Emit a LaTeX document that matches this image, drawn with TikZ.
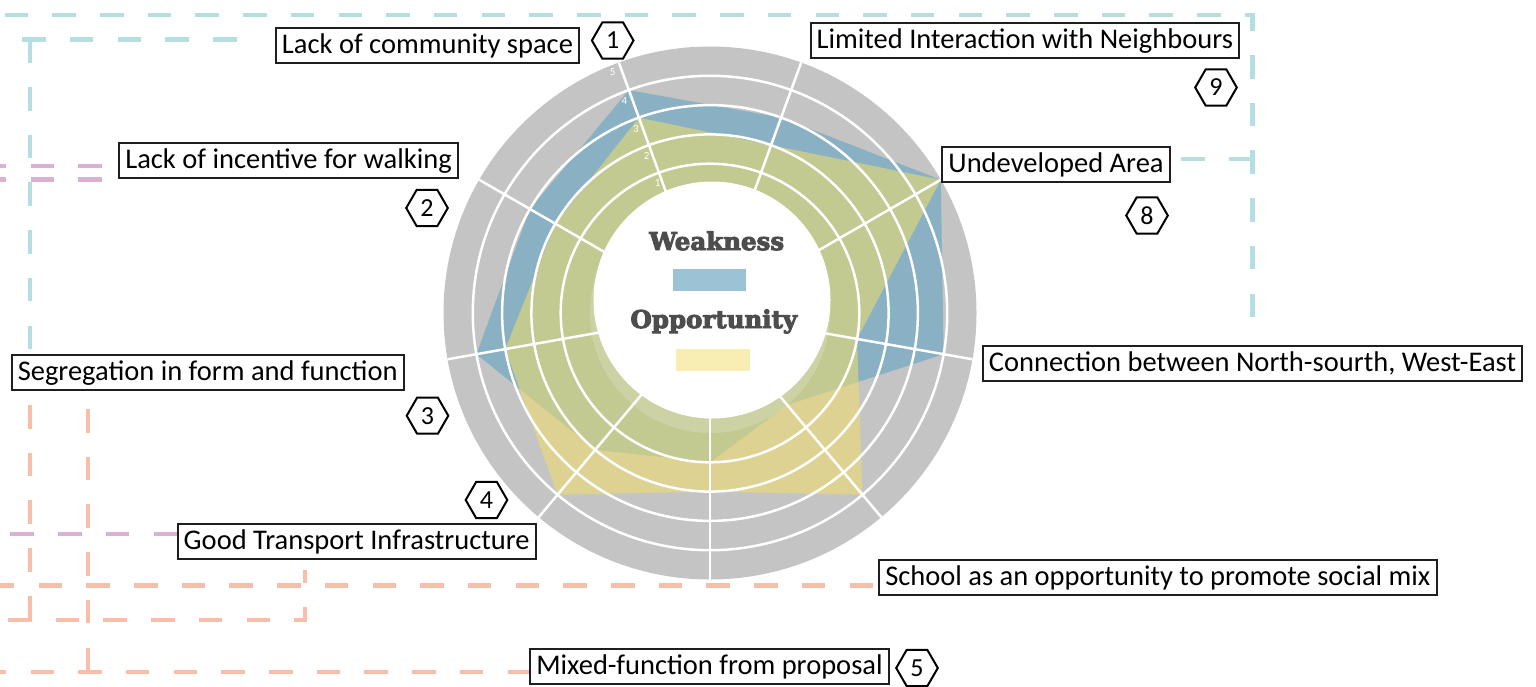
\documentclass[tikz,border=0pt]{standalone}
\usepackage{fontspec}
\setmainfont{Carlito}
\newfontfamily\slabfont{DejaVu Serif}[BoldFeatures={FakeBold=4}]
\usetikzlibrary{shapes.geometric}
\definecolor{grayzero}{RGB}{196,196,196}
\definecolor{wblue}{RGB}{112,169,195}
\definecolor{oyell}{RGB}{242,222,105}
\definecolor{lgblue}{RGB}{155,195,213}
\definecolor{lgyell}{RGB}{248,238,179}
\definecolor{dcyan}{RGB}{180,223,226}
\definecolor{dpink}{RGB}{218,176,212}
\definecolor{dsalmon}{RGB}{247,191,169}
\definecolor{txtgray}{RGB}{77,77,77}
\definecolor{boxline}{RGB}{30,30,30}
\begin{document}
\begin{tikzpicture}[x=1pt,y=-1pt,
  lab/.style={draw=boxline, line width=2pt, fill=white, font=\fontsize{28.5}{30}\selectfont,
    inner xsep=6pt, inner ysep=3.4pt, text height=22.2pt, text depth=6pt},
  hexa/.style={draw=black, line width=2pt, fill=white, regular polygon, regular polygon sides=6,
    minimum size=41.6pt, inner sep=0pt, font=\fontsize{26}{28}\selectfont},
  dsh/.style={line width=4.5pt, dash pattern=on 23.5pt off 24.2pt},
  ringline/.style={draw=white, line width=2.5pt},
  big/.style={font=\slabfont\bfseries\fontsize{24.5}{26}\selectfont, text=txtgray, inner sep=0pt, anchor=base},
  val/.style={font=\fontsize{11}{12}\selectfont, text=white, inner sep=0pt},
]
\useasboundingbox (0,0) rectangle (1536,686);

% ---- dashed connectors (behind the boxes) ----
\draw[dsh,dcyan] (1252.5,317) -- (1252.5,15) -- (0,15);
\draw[dsh,dcyan] (1252.5,159) -- (1181,159);
\draw[dsh,dcyan] (236.5,39.3) -- (22,39.3);
\draw[dsh,dcyan] (30,39.3) -- (30,350);
\draw[dsh,dpink] (101.7,166) -- (0,166);
\draw[dsh,dpink] (101.7,179.5) -- (0,179.5);
\draw[dsh,dpink] (177,534) -- (10,534);
\draw[dsh,dsalmon] (873,585.7) -- (0,585.7);
\draw[dsh,dsalmon] (30,405) -- (30,620);
\draw[dsh,dsalmon] (8,620) -- (305,620) -- (305,570);
\draw[dsh,dsalmon] (88,409) -- (88,672);
\draw[dsh,dsalmon] (531,672) -- (0,672);

% ---- radar chart ----
\begin{scope}[shift={(710,313)}, x=1pt, y=1pt]
  \fill[grayzero] (0,0) circle (266.5);
  \fill[wblue, fill opacity=0.7] (110:237.2) -- (70:207.9) -- (30:266.5) -- (350:237.2) -- (310:120)
     -- (270:149.3) -- (230:178.6) -- (190:237.2) -- (150:207.9) -- cycle;
  \fill[oyell, fill opacity=0.55] (110:207.9) -- (70:178.6) -- (30:266.5) -- (350:149.3) -- (310:237.2)
     -- (270:178.6) -- (230:237.2) -- (190:207.9) -- (150:178.6) -- cycle;
  \foreach \r in {149.3,178.6,207.9,237.2} \draw[ringline] (0,0) circle (\r);
  \foreach \a in {30,70,...,350} \draw[ringline] (0,0) -- (\a:266.5);
  \fill[white, fill opacity=0.18] (0,0) circle (120);
  \fill[white] (2,13) circle (118.5);
  \foreach \v/\r in {1/140,2/169,3/198,4/228.7,5/260} \node[val] at (112:\r) {\v};
\end{scope}

% ---- legend in the middle ----
\node[big] (wk) at (716.7,250) {Weakness};
\fill[lgblue] (672.7,268.7) rectangle (746,291);
\node[big] (op) at (713.8,328) {Opportunity};
\fill[lgyell] (676,349) rectangle (750,371.3);

% ---- labels ----
\node[lab] (comm) at (427.5,45.2) {Lack of community space};
\node[lab] (walk) at (288.5,160.8) {Lack of incentive for walking};
\node[lab] (seg) at (207.7,372.5) {Segregation in form and function};
\node[lab] (gti) at (356.7,541.8) {Good Transport Infrastructure};
\node[lab] (school) at (1157.9,577.5) {School as an opportunity to promote social mix};
\node[lab] (mixed) at (709.5,666.7) {Mixed-function from proposal};
\node[lab] (lim) at (1024.8,40.5) {Limited Interaction with Neighbours};
\node[lab] (undev) at (1056,164.2) {Undeveloped Area};
\node[lab] (conn) at (1252.5,363.7) {Connection between North-sourth, West-East};

% ---- numbered hexagons ----
\node[hexa] (h1) at (612.7,40.5) {1};
\node[hexa] (h2) at (427,208) {2};
\node[hexa] (h3) at (427.5,415.7) {3};
\node[hexa] (h4) at (486.5,500) {4};
\node[hexa] (h5) at (917,668) {5};
\node[hexa] (h8) at (1147,215.5) {8};
\node[hexa] (h9) at (1216,87.5) {9};
\end{tikzpicture}
\end{document}
